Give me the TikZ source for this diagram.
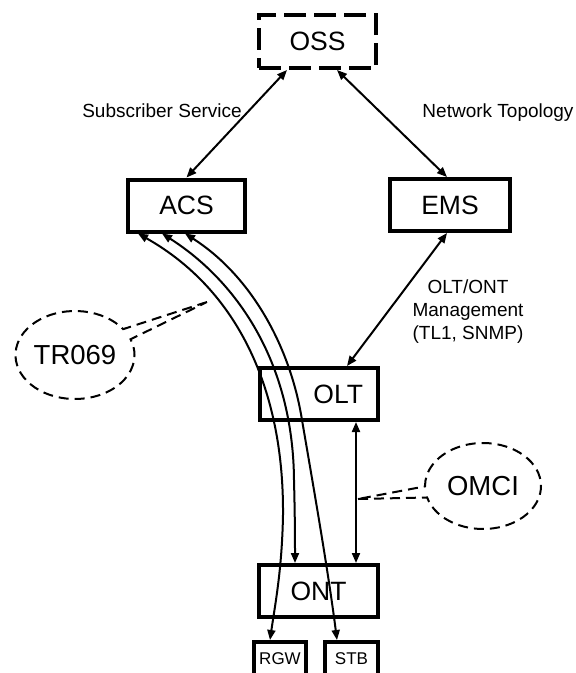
\documentclass[tikz,border=0pt]{standalone}
\usepackage{fontspec}
\setmainfont{Liberation Sans}
\usetikzlibrary{arrows.meta,shapes.callouts}
\begin{document}
\begin{tikzpicture}[x=1pt,y=-1pt,
  >={Triangle[length=10pt,width=8pt]},
  box/.style={draw,line width=4pt,inner sep=0pt,minimum width=117pt,minimum height=52pt,fill=white,font=\fontsize{26.5}{30}\selectfont},
  smallbox/.style={draw,line width=4pt,inner sep=0pt,minimum width=52pt,minimum height=34pt,fill=white,font=\fontsize{17}{20}\selectfont},
  bubble/.style={ellipse callout,draw,line width=2pt,dash pattern=on 10pt off 6pt,inner sep=0pt,font=\fontsize{27.5}{30}\selectfont},
  conn/.style={line width=2pt,<->},
  lbl/.style={font=\fontsize{19}{23}\selectfont,inner sep=0pt},
]
\clip (0,0) rectangle (576,673);

% boxes
\node[box,dash pattern=on 22pt off 8pt,minimum height=53pt] (oss) at (317.5,41.5) {OSS};
\node[box] (acs) at (186.5,205.5) {ACS};
\node[box,minimum width=120pt] (ems) at (450,205) {EMS};
\node[box,inner xsep=15pt,text width=88pt,align=right] (olt) at (319,394) {OLT};
\node[box,minimum width=119pt] (ont) at (318.5,591) {ONT};
\node[smallbox] (rgw) at (280,659) {RGW};
\node[smallbox,minimum width=53pt] (stb) at (351.5,659) {STB};

% labels
\node[lbl,anchor=base] (subsvc) at (162,117) {Subscriber Service};
\node[lbl,anchor=base] (nettopo) at (498,117) {Network Topology};
\node[lbl,align=center] (mgmt) at (468,312) {OLT/ONT\\Management\\(TL1, SNMP)};

% callouts
\coordinate (trTip) at (207,302);
\coordinate (omciTip) at (358,499);
\node[bubble,minimum width=119pt,minimum height=88pt,callout absolute pointer={(trTip)}] (tr) at (75,355) {TR069};
\node[bubble,minimum width=116pt,minimum height=86pt,callout absolute pointer={(omciTip)}] (omci) at (483,486) {OMCI};

% straight connectors
\draw[conn] ([xshift=-30.5pt]oss.south) -- (acs.north);
\draw[conn] ([xshift=19.5pt]oss.south) -- ([xshift=-3pt]ems.north);
\draw[conn] ([xshift=-3pt]ems.south) -- ([xshift=28pt]olt.north);
\coordinate (oltR) at ([xshift=37pt]olt.south);
\draw[conn] (oltR) -- (oltR |- ont.north);

% TR069 curves
\draw[conn] ([xshift=-48.5pt]acs.south) .. controls (238,290) and (284,390) .. (283,515)
   .. controls (282,570) and (275,605) .. ([xshift=-10pt]rgw.north);
\draw[conn] ([xshift=-24.5pt]acs.south) .. controls (235,280) and (293,360) .. (294,480)
   .. controls (295,520) and (295,540) .. ([xshift=-23.5pt]ont.north);
\draw[conn] ([xshift=-1.5pt]acs.south) .. controls (250,275) and (290,345) .. (302,420)
   .. controls (314,490) and (328,570) .. ([xshift=-14.5pt]stb.north);
\end{tikzpicture}
\end{document}
